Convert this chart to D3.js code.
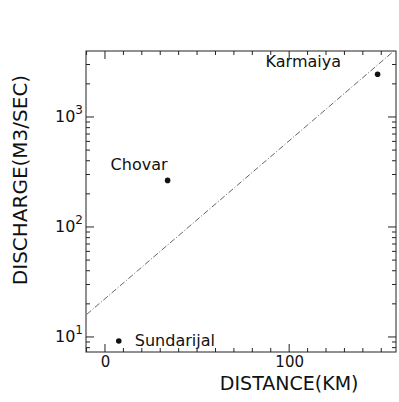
<!DOCTYPE html>
<html>
<head>
<meta charset="utf-8">
<script src="https://cdn.jsdelivr.net/npm/d3@7"></script>
<style>
  body { margin: 0; background: white; }
  text { font-family: "DejaVu Sans", sans-serif; fill: #111; }
</style>
</head>
<body>
<script>
// Datos
const stations = ["Sundarijal", "Chovar", "Karmaiya"];
const distances = [7.5, 34, 148]; // km
const discharges = [9.2, 265, 2450]; // m3/s

// Recta de ajuste (dos extremos)
const fitDistances = [-10, 157];
const fitDischarges = [16, 4000];

const xTicks = [0, 100];
const yTicks = [10, 100, 1000];

const charWidth = 399;
const charHeight = 402;
const margin = { top: 51, right: 3, bottom: 50, left: 86 };
const width = charWidth - margin.left - margin.right;
const height = charHeight - margin.top - margin.bottom;

const scalaX = d3.scaleLinear().domain([-10.3, 158]).range([0, width]);
const scalaY = d3.scaleLog().domain([7.3, 3980]).range([height, 0]);

const svg = d3
  .select("body")
  .append("svg")
  .attr("width", charWidth)
  .attr("height", charHeight)
  .append("g")
  .attr("transform", "translate(" + margin.left + "," + margin.top + ")");

// Marco
svg
  .append("rect")
  .attr("width", width)
  .attr("height", height)
  .attr("fill", "none")
  .attr("stroke", "#222")
  .attr("stroke-width", 1);

// Ticks menores
const minorX = d3.range(-10, 160, 10);
const minorY = [];
[1, 10, 100, 1000].forEach((dec) => d3.range(1, 10).forEach((m) => minorY.push(dec * m)));
const minorYIn = minorY.filter((v) => v >= 7.3 && v <= 3980);

const tickLines = svg.append("g").attr("stroke", "#222").attr("stroke-width", 1);
minorX.forEach((v) => {
  const major = xTicks.includes(v);
  const len = major ? 8 : 4;
  const x = scalaX(v);
  tickLines.append("line").attr("x1", x).attr("x2", x).attr("y1", height).attr("y2", height - len);
  tickLines.append("line").attr("x1", x).attr("x2", x).attr("y1", 0).attr("y2", len);
});
minorYIn.forEach((v) => {
  const major = yTicks.includes(v);
  const len = major ? 8 : 4;
  const y = scalaY(v);
  tickLines.append("line").attr("x1", 0).attr("x2", len).attr("y1", y).attr("y2", y);
  tickLines.append("line").attr("x1", width).attr("x2", width - len).attr("y1", y).attr("y2", y);
});

// Eje X (etiquetas)
const xAxis = d3.axisBottom(scalaX).tickValues(xTicks).tickSize(0).tickPadding(4);
svg
  .append("g")
  .attr("transform", "translate(0," + height + ")")
  .call(xAxis)
  .call((g) => g.select(".domain").remove())
  .selectAll("text")
  .style("font-size", "15px")
  .style("font-family", "DejaVu Sans, sans-serif")
  .attr("fill", "#111");

// Eje Y (etiquetas 10^n)
const yLabels = svg.append("g");
yTicks.forEach((v) => {
  const t = yLabels
    .append("text")
    .attr("x", -3)
    .attr("y", scalaY(v) + 5)
    .attr("text-anchor", "end")
    .style("font-size", "16px");
  t.append("tspan").text("10");
  t.append("tspan")
    .attr("dy", -8)
    .style("font-size", "12px")
    .text(Math.round(Math.log10(v)));
});

// Títulos
svg
  .append("text")
  .attr("x", scalaX(100))
  .attr("y", height + 38)
  .attr("text-anchor", "middle")
  .style("font-size", "19px")
  .text("DISTANCE(KM)");

svg
  .append("text")
  .attr("transform", "translate(" + (-59) + "," + 129 + ") rotate(-90)")
  .attr("text-anchor", "middle")
  .style("font-size", "20px")
  .text("DISCHARGE(M3/SEC)");

// Recta de ajuste
svg
  .append("line")
  .attr("x1", scalaX(fitDistances[0]))
  .attr("y1", scalaY(fitDischarges[0]))
  .attr("x2", scalaX(fitDistances[1]))
  .attr("y2", scalaY(fitDischarges[1]))
  .attr("stroke", "#666")
  .attr("stroke-width", 1)
  .attr("stroke-dasharray", "6,2,1,2");

// Puntos
const data = stations.map((s, i) => ({ name: s, d: distances[i], q: discharges[i] }));
svg
  .selectAll("circle")
  .data(data)
  .enter()
  .append("circle")
  .attr("cx", (d) => scalaX(d.d))
  .attr("cy", (d) => scalaY(d.q))
  .attr("r", 2.8)
  .attr("fill", "#111");

// Etiquetas de estaciones
const labelOffset = {
  Sundarijal: [16, 5, "start"],
  Chovar: [-57, -10, "start"],
  Karmaiya: [-112, -7, "start"],
};
svg
  .selectAll(".lbl")
  .data(data)
  .enter()
  .append("text")
  .attr("class", "lbl")
  .attr("x", (d) => scalaX(d.d) + labelOffset[d.name][0])
  .attr("y", (d) => scalaY(d.q) + labelOffset[d.name][1])
  .attr("text-anchor", (d) => labelOffset[d.name][2])
  .style("font-size", "16px")
  .text((d) => d.name);
</script>
</body>
</html>
